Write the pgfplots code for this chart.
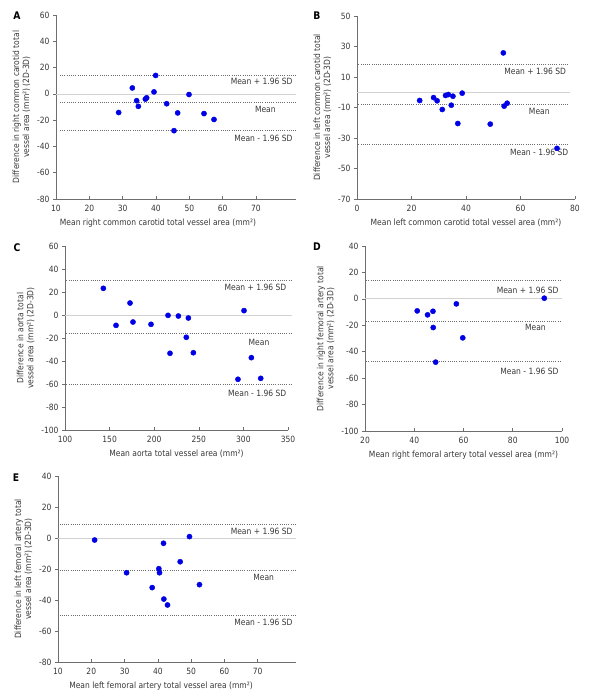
\documentclass[border=0pt]{standalone}
\usepackage{fontspec}
\setmainfont{DejaVu Sans}[FakeStretch=0.88]
\usepackage{pgfplots}
\pgfplotsset{compat=1.18}

\definecolor{axgray}{RGB}{110,110,110}
\definecolor{txtgray}{RGB}{55,55,55}
\definecolor{dotblue}{RGB}{0,0,230}

\pgfplotsset{
  ba/.style={
    scale only axis,
    axis x line*=bottom, axis y line*=left,
    axis line style={axgray, line width=0.6pt},
    tick align=outside, major tick length=3pt,
    tick style={axgray, line width=0.6pt},
    xtick style={yshift=3pt},
    ticklabel style={font=\fontsize{8.6}{10}\selectfont, text=txtgray},
    label style={font=\fontsize{8.6}{10}\selectfont, text=txtgray},
    ylabel style={align=center},
    /pgf/number format/assume math mode=true,
    clip=false,
  },
  pts/.style={only marks, mark=*, mark size=2.6pt, color=dotblue},
  zero/.style={gray!35, line width=0.7pt},
  lim/.style={axgray, line width=0.6pt, dash pattern=on 1pt off 1.2pt},
}
\tikzset{note/.style={font=\fontsize{8.6}{10}\selectfont, text=txtgray}}
\newcommand{\panel}[1]{\node[font=\fontsize{10.5}{12}\bfseries\selectfont] at #1}

\begin{document}
\begin{tikzpicture}
\useasboundingbox (0pt,0pt) rectangle (600pt,-698pt);

% ---- A
\begin{axis}[ba, at={(56pt,-199pt)}, anchor=south west, width=240pt, height=184pt,
  xmin=10, xmax=82, ymin=-80, ymax=60,
  xtick={10,20,...,70}, ytick={-80,-60,...,60},
  xlabel style={at={(ticklabel cs:0.425)}},
  xlabel={Mean right common carotid total vessel area (mm²)},
  ylabel={Difference in right common carotid total\\vessel area (mm²) (2D-3D)}]
\addplot[zero] coordinates {(10,0) (82,0)};
\addplot[lim] coordinates {(11.2,14.5) (82,14.5)};
\addplot[lim] coordinates {(11.2,-6.5) (82,-6.5)};
\addplot[lim] coordinates {(11.2,-27.6) (82,-27.6)};
\addplot[pts] coordinates {
(28.8,-14.2) (32.9,4.5) (34.2,-5.2) (34.7,-9.5) (36.8,-4) (37.2,-3) (39.4,1.5)
(39.9,14) (43.2,-7.5) (45.4,-28) (46.5,-14.5) (49.9,-0.5) (54.4,-15) (57.4,-19.5)
};
\node[note, anchor=east] at (axis cs:82,9.2) {Mean + 1.96 SD};
\node[note] at (axis cs:72.8,-12) {Mean};
\node[note, anchor=east] at (axis cs:82,-33.5) {Mean - 1.96 SD};
\end{axis}
\panel{(17pt,-16pt)} {A};

% ---- B
\begin{axis}[ba, at={(357pt,-199pt)}, anchor=south west, width=218pt, height=183pt,
  xmin=0, xmax=80, ymin=-70, ymax=50,
  xtick={0,20,...,80}, ytick={-70,-50,...,50},
  xlabel={Mean left common carotid total vessel area (mm²)},
  ylabel={Difference in left common carotid total\\vessel area (mm²) (2D-3D)}]
\addplot[zero] coordinates {(0,0) (78,0)};
\addplot[lim] coordinates {(0.5,18.6) (78,18.6)};
\addplot[lim] coordinates {(0.5,-7.6) (78,-7.6)};
\addplot[lim] coordinates {(0.5,-33.9) (78,-33.9)};
\addplot[pts] coordinates {
(23,-5.4) (28.1,-3.5) (29.4,-5.6) (31.3,-11.3) (32.5,-2.1) (33.5,-1.5) (34.6,-8.5)
(35.2,-2.6) (38.6,-0.6) (37,-20.5) (48.9,-20.9) (53.7,25.8) (54,-9.1) (55.1,-7.2) (73.4,-36.8)
};
\node[note, anchor=east] at (axis cs:78,13.6) {Mean + 1.96 SD};
\node[note] at (axis cs:66.9,-12.8) {Mean};
\node[note, anchor=east] at (axis cs:78.8,-39.6) {Mean - 1.96 SD};
\end{axis}
\panel{(317pt,-16pt)} {B};

% ---- C
\begin{axis}[ba, at={(65pt,-430pt)}, anchor=south west, width=223pt, height=184pt,
  xmin=100, xmax=350, ymin=-100, ymax=60,
  xtick={100,150,...,350}, ytick={-100,-80,...,60},
  xlabel={Mean aorta total vessel area (mm²)},
  ylabel={Difference in aorta total\\vessel area (mm²) (2D-3D)}]
\addplot[zero] coordinates {(100,0) (354,0)};
\addplot[lim] coordinates {(101.5,30.4) (354,30.4)};
\addplot[lim] coordinates {(101.5,-16.2) (354,-16.2)};
\addplot[lim] coordinates {(101.5,-60.3) (354,-60.3)};
\addplot[pts] coordinates {
(143,23.2) (157.2,-9) (172.9,10.4) (176.2,-6.1) (196.4,-8.1) (215.5,-0.3) (217.7,-33.3)
(227.1,-0.9) (236,-19.4) (238.3,-2.6) (243.9,-32.8) (293.9,-55.9) (300.7,3.8)
(308.9,-37.1) (319.4,-55.1)
};
\node[note, anchor=east] at (axis cs:352,24) {Mean + 1.96 SD};
\node[note] at (axis cs:317.5,-24) {Mean};
\node[note, anchor=east] at (axis cs:352,-67.8) {Mean - 1.96 SD};
\end{axis}
\panel{(17pt,-248pt)} {C};

% ---- D
\begin{axis}[ba, at={(365pt,-431pt)}, anchor=south west, width=197pt, height=185pt,
  xmin=20, xmax=100, ymin=-100, ymax=40,
  xtick={20,40,...,100}, ytick={-100,-80,...,40},
  xlabel={Mean right femoral artery total vessel area (mm²)},
  ylabel={Difference in right femoral artery total\\vessel area (mm²) (2D-3D)}]
\addplot[zero] coordinates {(20,0.3) (100,0.3)};
\addplot[lim] coordinates {(20.5,14.1) (100,14.1)};
\addplot[lim] coordinates {(20.5,-16.8) (100,-16.8)};
\addplot[lim] coordinates {(20.5,-47.1) (100,-47.1)};
\addplot[pts] coordinates {
(41.2,-9.1) (45.4,-12.1) (47.6,-9.4) (47.7,-21.7) (48.7,-47.9) (57.1,-3.8) (59.7,-29.5) (92.8,0.5)
};
\node[note, anchor=east] at (axis cs:100,6.5) {Mean + 1.96 SD};
\node[note] at (axis cs:89.2,-21.7) {Mean};
\node[note, anchor=east] at (axis cs:100,-55) {Mean - 1.96 SD};
\end{axis}
\panel{(317pt,-247pt)} {D};

% ---- E
\begin{axis}[ba, at={(58pt,-662pt)}, anchor=south west, width=238pt, height=186pt,
  xmin=10, xmax=81.5, ymin=-80, ymax=40,
  xtick={10,20,...,70}, ytick={-80,-60,...,40},
  xlabel style={at={(ticklabel cs:0.433)}},
  xlabel={Mean left femoral artery total vessel area (mm²)},
  ylabel={Difference in left femoral artery total\\vessel area (mm²) (2D-3D)}]
\addplot[zero] coordinates {(10,0) (81.5,0)};
\addplot[lim] coordinates {(10.5,8.6) (81.5,8.6)};
\addplot[lim] coordinates {(10.5,-20.6) (81.5,-20.6)};
\addplot[lim] coordinates {(10.5,-49.9) (81.5,-49.9)};
\addplot[pts] coordinates {
(21,-1.3) (30.6,-22.4) (38.3,-32) (40.3,-19.8) (40.5,-22.4) (41.7,-3.4) (41.8,-39.4)
(42.9,-43.2) (46.7,-15.3) (49.5,0.9) (52.5,-30.1)
};
\node[note, anchor=east] at (axis cs:81.5,4.5) {Mean + 1.96 SD};
\node[note] at (axis cs:71.8,-25.6) {Mean};
\node[note, anchor=east] at (axis cs:81.5,-54.6) {Mean - 1.96 SD};
\end{axis}
\panel{(16pt,-478pt)} {E};
\end{tikzpicture}
\end{document}
